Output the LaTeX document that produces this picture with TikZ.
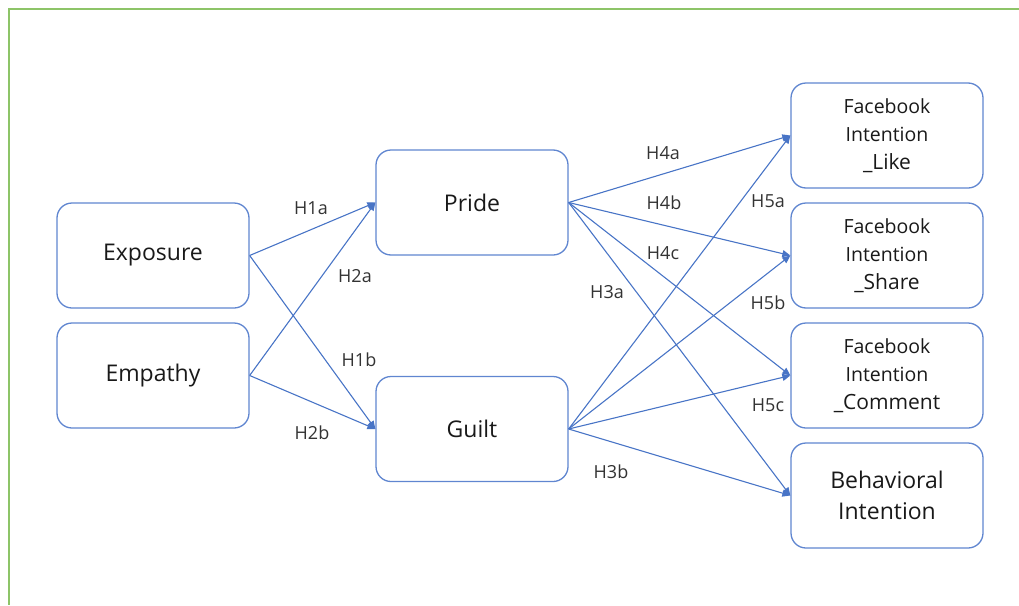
\documentclass[tikz,border=0pt]{standalone}
\usepackage{fontspec}
\setmainfont{Open Sans}
\usetikzlibrary{positioning,arrows.meta}
\definecolor{boxblue}{RGB}{96,134,208}
\definecolor{arrowblue}{RGB}{72,116,198}
\definecolor{framegreen}{RGB}{141,196,104}

\tikzset{
  construct/.style={draw=boxblue, line width=1.3pt, rounded corners=15pt,
    minimum width=192pt, minimum height=105pt, align=center, text=black!90,
    font=\fontsize{23}{31}\selectfont},
  fbbox/.style={construct, font=\fontsize{19.5}{28}\selectfont},
  hyp/.style={draw=arrowblue, line width=1.1pt, -{Triangle[length=8pt,width=7pt]}},
  hyplabel/.style={font=\fontsize{18}{20}\selectfont, text=black!80, inner sep=0pt}
}

\begin{document}
\begin{tikzpicture}[x=1pt,y=-1pt]
  % Parameters
  \def\gap{13.7pt}    % vertical gap between boxes (outer sep added)

  % Canvas and frame
  \useasboundingbox (0,0) rectangle (1019,605);
  \draw[framegreen, line width=2pt] (1019,9) -- (9,9) -- (9,605);

  % Left column
  \node[construct] (exposure) at (153,255.5) {Exposure};
  \node[construct, below=\gap of exposure] (empathy) {Empathy};

  % Middle column
  \node[construct] (pride) at (472,202.5) {Pride};
  \node[construct] (guilt) at (472,429) {Guilt};

  % Right column
  \node[fbbox] (like) at (887,135.5) {Facebook\\Intention\\{\fontsize{21}{28}\selectfont\_Like}};
  \node[fbbox, below=\gap of like] (share) {Facebook\\Intention\\{\fontsize{21}{28}\selectfont\_Share}};
  \node[fbbox, below=\gap of share] (comment) {Facebook\\Intention\\{\fontsize{21}{28}\selectfont\_Comment}};
  \node[construct, below=\gap of comment] (behav) {Behavioral\\Intention};

  % Hypothesis paths
  \foreach \s/\t in {exposure/pride, exposure/guilt, empathy/pride, empathy/guilt} {
    \draw[hyp] (\s.east) -- (\t.west);
  }
  \foreach \t in {like, share, comment, behav} {
    \draw[hyp] (pride.east) -- (\t.west);
    \draw[hyp] (guilt.east) -- (\t.west);
  }

  % Hypothesis labels
  \foreach \h/\x/\y in {H1a/311/208, H2a/355/276, H1b/359/360, H2b/312/433,
                        H4a/663/153, H4b/664/203, H4c/663/253, H3a/607/292,
                        H5a/768/201, H5b/768/303, H5c/768/405, H3b/611/472} {
    \node[hyplabel] (\h) at (\x,\y) {\h};
  }
\end{tikzpicture}
\end{document}
